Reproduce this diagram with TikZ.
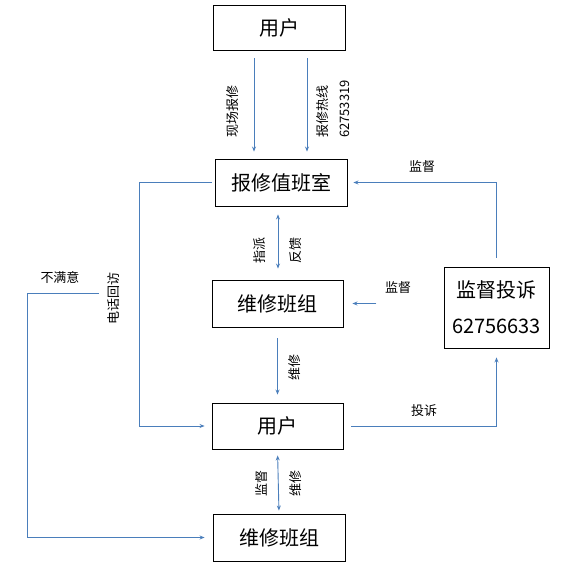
\documentclass[tikz,border=0pt]{standalone}
\usepackage{fontspec}
\setmainfont{Noto Sans CJK SC}
\usepackage{tikz}
\usetikzlibrary{positioning,arrows.meta}
\usepackage{xcolor}
\definecolor{linkblue}{RGB}{74,126,187}

\begin{document}
\begin{tikzpicture}[x=1pt, y=-1pt,
    every node/.style={font=\fontsize{13}{15}\selectfont},
    box/.style={draw=black, line width=0.9pt, inner sep=0pt, font=\fontsize{20}{24}\selectfont},
    link/.style={linkblue, line width=0.9pt, -{Stealth[length=5pt,width=4pt]}},
    twolink/.style={linkblue, line width=0.9pt, {Stealth[length=5pt,width=4pt]}-{Stealth[length=5pt,width=4pt]}},
    tag/.style={rotate=90}]
    \useasboundingbox (0,0) rectangle (566,571);
    % Boxes
    \node[box, minimum width=132pt, minimum height=45pt] (user1) at (279,27.5) {用户};
    \node[box, minimum width=132pt, minimum height=47pt] (duty) at (281,182.5) {报修值班室};
    \node[box, minimum width=131pt, minimum height=47pt] (team1) at (277.5,303.5) {维修班组};
    \node[box, minimum width=105pt, minimum height=81pt, align=center,
          font=\fontsize{20}{36}\selectfont] (watch) at (496.5,307.5) {监督投诉\\62756633};
    \node[box, minimum width=131pt, minimum height=46pt] (user2) at (277.5,426) {用户};
    \node[box, minimum width=132pt, minimum height=47pt] (team2) at (279,537.5) {维修班组};
    % Free ends
    \coordinate (loopx) at (139,0);
    \coordinate (sadx) at (27,0);
    \coordinate (sad) at (99,293);
    % Reports
    \draw[link, shorten <=8pt, shorten >=7pt] ([xshift=-25pt]user1.south) -- ([xshift=-25pt]user1.south |- duty.north);
    \draw[link, shorten <=8pt, shorten >=7pt] ([xshift=28pt]user1.south) -- ([xshift=28pt]user1.south |- duty.north);
    \node[tag] (onsite) at (233,111) {现场报修};
    \node[tag] (hotline) at (323,111) {报修热线};
    \node[tag] (hotnum) at (345,109) {62753319};
    % Dispatch
    \draw[twolink, shorten <=8pt, shorten >=11pt] ([xshift=-3pt]duty.south) -- ([xshift=-3pt]duty.south |- team1.north);
    \node[tag] (assign) at (260,250) {指派};
    \node[tag] (reply) at (296,250) {反馈};
    % Repair
    \draw[link, shorten <=11pt, shorten >=8pt] (team1.south) -- (user2.north);
    \node[tag] (fix1) at (295,367) {维修};
    \draw[twolink, shorten <=6pt, shorten >=3pt] (user2.south) -- (team2.north);
    \node[tag] (check) at (262,483) {监督};
    \node[tag] (fix2) at (296,483) {维修};
    % Phone call back
    \draw[link] ([xshift=-3pt]duty.west) -- (duty.west -| loopx) -- (user2.west -| loopx) -- ([xshift=-7pt]user2.west);
    \node[tag] (call) at (114,298) {电话回访};
    \draw[link] (sad) -| (sadx |- team2.west) -- ([xshift=-8pt]team2.west);
    \node (unhappy) at (60,277) {不满意};
    % Supervision
    \draw[link] ([yshift=9pt]watch.north) |- ([xshift=6pt]duty.east);
    \node (sup1) at (422,167) {监督};
    \draw[link] ([xshift=33pt]team1.east) -- ([xshift=9pt]team1.east);
    \node (sup2) at (398,288) {监督};
    \draw[link] ([xshift=8pt]user2.east) -| ([yshift=-9pt]watch.south);
    \node (plaint) at (424,411) {投诉};
\end{tikzpicture}
\end{document}
